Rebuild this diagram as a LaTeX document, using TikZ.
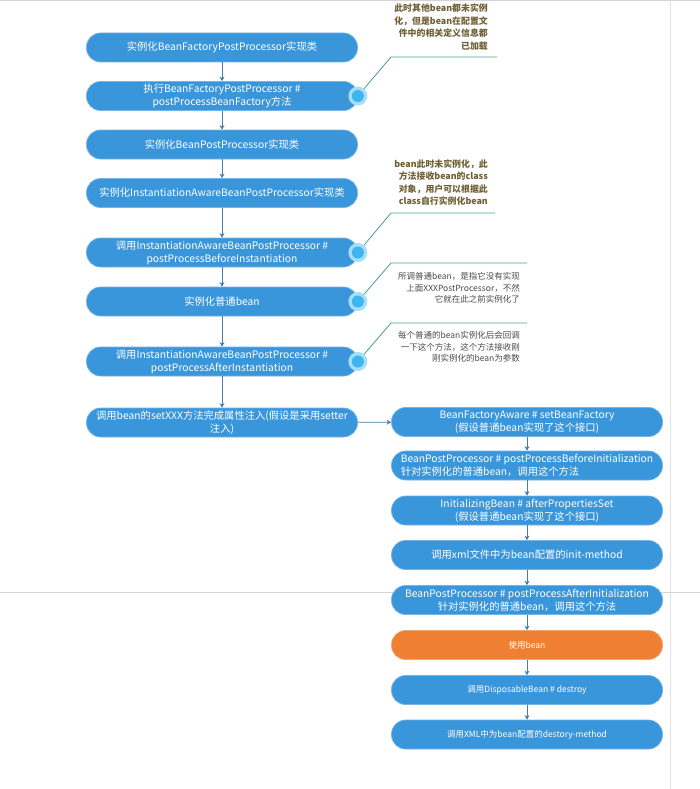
\documentclass[tikz,border=0pt]{standalone}
\usepackage{fontspec}
\newfontfamily\cjk{Noto Sans CJK SC}
\usetikzlibrary{arrows.meta}
\definecolor{boxblue}{HTML}{3A96DB}
\definecolor{boxorange}{HTML}{EF7F32}
\definecolor{arrowblue}{HTML}{3F7DB3}
\definecolor{noteline}{HTML}{4A9C8C}
\definecolor{noteolive}{HTML}{6E5F35}
\definecolor{notegray}{HTML}{4A4A4A}
\definecolor{halo}{HTML}{A6DDF7}
\definecolor{dotblue}{HTML}{3DB5EE}
\definecolor{framegray}{HTML}{D4D4D4}
\begin{document}
\begin{tikzpicture}[x=1pt,y=-1pt,
  stepbox/.style={draw=boxblue!70!white, line width=0.7pt, fill=boxblue,
    rounded corners=14pt, minimum width=271pt, minimum height=29pt,
    inner sep=0pt, text=white, align=center,
    font=\cjk\fontsize{10.3}{13}\selectfont},
  smallbox/.style={stepbox, font=\cjk\fontsize{8.5}{11}\selectfont},
  usebox/.style={smallbox, fill=boxorange, draw=boxorange!70!white},
  flow/.style={draw=arrowblue, line width=0.8pt, -{Stealth[length=4.5pt,width=5pt]}},
  halodot/.style={circle, fill=halo, minimum size=19pt, inner sep=0pt},
  coredot/.style={circle, fill=dotblue, minimum size=12pt, inner sep=0pt},
  notelink/.style={draw=noteline, line width=0.8pt},
  boldnote/.style={anchor=east, align=right, text=noteolive, inner sep=0pt,
    font=\cjk\bfseries\fontsize{8.9}{12.5}\selectfont},
  plainnote/.style={anchor=east, align=right, text=notegray, inner sep=0pt,
    font=\cjk\fontsize{8.5}{11.5}\selectfont},
  frame/.style={draw=framegray, line width=1.2pt}
]
\useasboundingbox[fill=white] (0,0) rectangle (700,789);
% frame lines
\coordinate (ftl) at (0,0.8);
\coordinate (ftr) at (700,0.8);
\coordinate (fvt) at (670.5,0);
\coordinate (fvb) at (670.5,789);
\coordinate (fhl) at (0,592.5);
\coordinate (fhr) at (700,592.5);
\draw[frame] (ftl) -- (ftr);
\draw[frame, draw=framegray!70] (fvt) -- (fvb);
\draw[frame, line width=1pt] (fhl) -- (fhr);

% left column
\node[stepbox] (l1) at (222,47.5) {实例化BeanFactoryPostProcessor实现类};
\node[stepbox] (l2) at (222,96) {执行BeanFactoryPostProcessor \#\\postProcessBeanFactory方法};
\node[stepbox] (l3) at (222,144.5) {实例化BeanPostProcessor实现类};
\node[stepbox] (l4) at (222,193) {实例化InstantiationAwareBeanPostProcessor实现类};
\node[stepbox] (l5) at (222,252.5) {调用InstantiationAwareBeanPostProcessor \#\\postProcessBeforeInstantiation};
\node[stepbox] (l6) at (222,301.5) {实例化普通bean};
\node[stepbox] (l7) at (222,361.5) {调用InstantiationAwareBeanPostProcessor \#\\postProcessAfterInstantiation};
\node[stepbox] (l8) at (222,422.5) {调用bean的setXXX方法完成属性注入(假设是采用setter\\注入)};

% right column
\node[stepbox] (r1) at (527,422) {BeanFactoryAware \# setBeanFactory\\(假设普通bean实现了这个接口)};
\node[stepbox, align=left] (r2) at (527,465.5) {BeanPostProcessor \# postProcessBeforeInitialization\\针对实例化的普通bean，调用这个方法};
\node[stepbox] (r3) at (527,510.5) {InitializingBean \# afterPropertiesSet\\(假设普通bean实现了这个接口)};
\node[stepbox] (r4) at (527,555) {调用xml文件中为bean配置的init-method};
\node[stepbox] (r5) at (527,600) {BeanPostProcessor \# postProcessAfterInitialization\\针对实例化的普通bean，调用这个方法};
\node[usebox] (r6) at (527,645) {使用bean};
\node[smallbox] (r7) at (527,690) {调用DisposableBean \# destroy};
\node[smallbox] (r8) at (527,734.5) {调用XML中为bean配置的destory-method};

% flow connectors
\draw[flow] (l1) -- (l2);
\draw[flow] (l2) -- (l3);
\draw[flow] (l3) -- (l4);
\draw[flow] (l4) -- (l5);
\draw[flow] (l5) -- (l6);
\draw[flow] (l6) -- (l7);
\draw[flow] (l7) -- (l8);
\draw[flow] (l8) -- (r1);
\draw[flow] (r1) -- (r2);
\draw[flow] (r2) -- (r3);
\draw[flow] (r3) -- (r4);
\draw[flow] (r4) -- (r5);
\draw[flow] (r5) -- (r6);
\draw[flow] (r6) -- (r7);
\draw[flow] (r7) -- (r8);

% notes
\node[boldnote] (n1) at (488,27) {此时其他bean都未实例\\化，但是bean在配置文\\件中的相关定义信息都\\已加载};
\node[boldnote] (n2) at (488,182.5) {bean此时未实例化，此\\方法接收bean的class\\对象，用户可以根据此\\class自行实例化bean};
\node[plainnote] (n3) at (520,288) {所调普通bean，是指它没有实现\\上面XXXPostProcessor，不然\\它就在此之前实例化了};
\node[plainnote] (n4) at (520,347) {每个普通的bean实例化后会回调\\一下这个方法，这个方法接收刚\\刚实例化的bean为参数};

\coordinate (k1) at (391,57);   \coordinate (e1) at (497,57);
\coordinate (k2) at (391,213);  \coordinate (e2) at (495,213);
\coordinate (k3) at (391,263);  \coordinate (e3) at (527,263);
\coordinate (k4) at (391,323);  \coordinate (e4) at (527,323);

\draw[notelink] (l2.east) -- (k1) -- (e1);
\draw[notelink] (l5.east) -- (k2) -- (e2);
\draw[notelink] (l6.east) -- (k3) -- (e3);
\draw[notelink] (l7.east) -- (k4) -- (e4);

\node[halodot] (h1) at (l2.east) {};
\node[coredot] (d1) at (l2.east) {};
\node[halodot] (h2) at (l5.east) {};
\node[coredot] (d2) at (l5.east) {};
\node[halodot] (h3) at (l6.east) {};
\node[coredot] (d3) at (l6.east) {};
\node[halodot] (h4) at (l7.east) {};
\node[coredot] (d4) at (l7.east) {};
\end{tikzpicture}
\end{document}
